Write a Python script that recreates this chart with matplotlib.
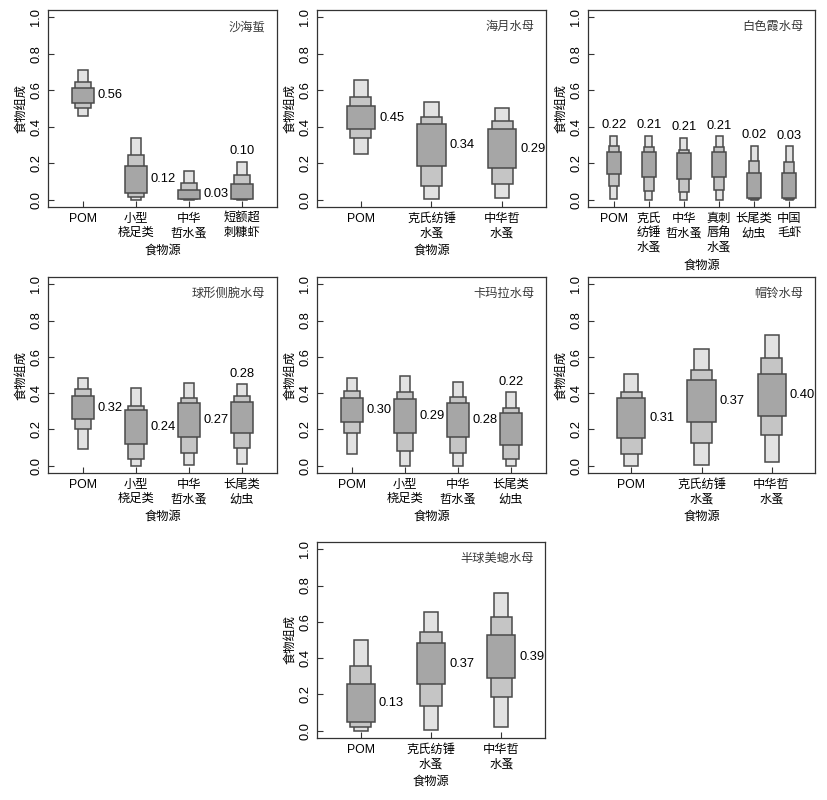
import numpy as np
import matplotlib
matplotlib.use('Agg')
import matplotlib.pyplot as plt

plt.rcParams['font.family'] = ['Liberation Sans', 'Noto Sans CJK SC', 'DejaVu Sans']
plt.rcParams['axes.unicode_minus'] = False

# ---- data: credible intervals (low, high) for 95%, 75%, 50% and the mean ----
# 沙海蜇
p1_name = '沙海蜇'
p1_src = ['POM', '小型\n桡足类', '中华\n哲水蚤', '短额超\n刺糠虾']
p1_q95 = [(0.457, 0.709), (0.000, 0.337), (0.000, 0.160), (0.000, 0.208)]
p1_q75 = [(0.503, 0.645), (0.013, 0.243), (0.005, 0.092), (0.004, 0.134)]
p1_q50 = [(0.530, 0.613), (0.037, 0.186), (0.005, 0.053), (0.005, 0.085)]
p1_mean = ['0.56', '0.12', '0.03', '0.10']
p1_pos = ['r', 'r', 'r', 't']

# 海月水母
p2_name = '海月水母'
p2_src = ['POM', '克氏纺锤\n水蚤', '中华哲\n水蚤']
p2_q95 = [(0.253, 0.655), (0.004, 0.538), (0.010, 0.501)]
p2_q75 = [(0.341, 0.565), (0.075, 0.451), (0.088, 0.431)]
p2_q50 = [(0.385, 0.516), (0.183, 0.415), (0.176, 0.385)]
p2_mean = ['0.45', '0.34', '0.29']
p2_pos = ['r', 'r', 'r']

# 白色霞水母
p3_name = '白色霞水母'
p3_src = ['POM', '克氏\n纺锤\n水蚤', '中华\n哲水蚤', '真刺\n唇角\n水蚤', '长尾类\n幼虫', '中国\n毛虾']
p3_q95 = [(0.006, 0.349), (0.000, 0.349), (0.000, 0.340), (0.000, 0.347), (0.000, 0.297), (0.000, 0.292)]
p3_q75 = [(0.077, 0.292), (0.050, 0.288), (0.042, 0.270), (0.053, 0.288), (0.006, 0.213), (0.004, 0.209)]
p3_q50 = [(0.139, 0.264), (0.123, 0.264), (0.114, 0.255), (0.125, 0.262), (0.010, 0.149), (0.010, 0.145)]
p3_mean = ['0.22', '0.21', '0.21', '0.21', '0.02', '0.03']
p3_pos = ['t', 't', 't', 't', 't', 't']

# 球形侧腕水母
p4_name = '球形侧腕水母'
p4_src = ['POM', '小型\n桡足类', '中华\n哲水蚤', '长尾类\n幼虫']
p4_q95 = [(0.094, 0.484), (0.000, 0.426), (0.002, 0.457), (0.011, 0.448)]
p4_q75 = [(0.204, 0.422), (0.035, 0.328), (0.070, 0.376), (0.100, 0.383)]
p4_q50 = [(0.259, 0.382), (0.119, 0.305), (0.158, 0.345), (0.182, 0.349)]
p4_mean = ['0.32', '0.24', '0.27', '0.28']
p4_pos = ['r', 'r', 'r', 't']

# 卡玛拉水母
p5_name = '卡玛拉水母'
p5_src = ['POM', '小型\n桡足类', '中华\n哲水蚤', '长尾类\n幼虫']
p5_q95 = [(0.064, 0.486), (0.000, 0.494), (0.000, 0.461), (0.000, 0.404)]
p5_q75 = [(0.182, 0.413), (0.083, 0.407), (0.072, 0.380), (0.035, 0.316)]
p5_q50 = [(0.239, 0.371), (0.178, 0.367), (0.160, 0.345), (0.114, 0.292)]
p5_mean = ['0.30', '0.29', '0.28', '0.22']
p5_pos = ['r', 'r', 'r', 't']

# 帽铃水母
p6_name = '帽铃水母'
p6_src = ['POM', '克氏纺锤\n水蚤', '中华哲\n水蚤']
p6_q95 = [(0.000, 0.508), (0.002, 0.646), (0.022, 0.721)]
p6_q75 = [(0.062, 0.407), (0.123, 0.525), (0.171, 0.591)]
p6_q50 = [(0.152, 0.371), (0.240, 0.472), (0.272, 0.506)]
p6_mean = ['0.31', '0.37', '0.40']
p6_pos = ['r', 'r', 'r']

# 半球美螅水母
p7_name = '半球美螅水母'
p7_src = ['POM', '克氏纺锤\n水蚤', '中华哲\n水蚤']
p7_q95 = [(0.000, 0.499), (0.006, 0.655), (0.022, 0.758)]
p7_q75 = [(0.022, 0.354), (0.138, 0.543), (0.187, 0.624)]
p7_q50 = [(0.048, 0.257), (0.257, 0.484), (0.288, 0.525)]
p7_mean = ['0.13', '0.37', '0.39']
p7_pos = ['r', 'r', 'r']

panels = [
    (p1_name, p1_src, p1_q95, p1_q75, p1_q50, p1_mean, p1_pos),
    (p2_name, p2_src, p2_q95, p2_q75, p2_q50, p2_mean, p2_pos),
    (p3_name, p3_src, p3_q95, p3_q75, p3_q50, p3_mean, p3_pos),
    (p4_name, p4_src, p4_q95, p4_q75, p4_q50, p4_mean, p4_pos),
    (p5_name, p5_src, p5_q95, p5_q75, p5_q50, p5_mean, p5_pos),
    (p6_name, p6_src, p6_q95, p6_q75, p6_q50, p6_mean, p6_pos),
    (p7_name, p7_src, p7_q95, p7_q75, p7_q50, p7_mean, p7_pos),
]

# axes rectangles in pixels (left, top, right, bottom) on a 827x800 canvas
W, H = 827.0, 800.0
boxes_px = [(48, 10, 277, 207), (317, 10, 546, 207), (588, 10, 815, 207),
            (48, 277, 277, 473), (317, 277, 546, 473), (588, 277, 815, 473),
            (317, 542, 545, 738)]

fs = 8.8       # tick labels / axis titles
fs_num = 9.3   # numbers
edge = '#4a4a4a'
cols = ['#e2e2e2', '#c5c5c5', '#a6a6a6']   # 95%, 75%, 50%
widths = [0.2, 0.3, 0.4]

fig = plt.figure(figsize=(8.27, 8.0), dpi=100)

for (name, src, q95, q75, q50, mean, pos), (l, t, r, b) in zip(panels, boxes_px):
    ax = fig.add_axes([l / W, 1 - b / H, (r - l) / W, (b - t) / H])
    n = len(src)
    x = np.arange(1, n + 1)
    for q, c, w in zip([q95, q75, q50], cols, widths):
        lo = np.array([v[0] for v in q])
        hi = np.array([v[1] for v in q])
        ax.bar(x, hi - lo, bottom=lo, width=w, color=c, edgecolor=edge, linewidth=1.1, zorder=2)

    for i in range(n):
        if pos[i] == 'r':
            ym = (q50[i][0] + q50[i][1]) / 2
            ax.annotate(mean[i], (x[i] + widths[2] / 2, ym), xytext=(3, 0),
                        textcoords='offset points', ha='left', va='center', fontsize=fs_num)
        else:
            ax.annotate(mean[i], (x[i], q95[i][1]), xytext=(0, 3.5),
                        textcoords='offset points', ha='center', va='bottom', fontsize=fs_num)

    ext = 0.04 * n
    ax.set_xlim(0.5 - ext, n + 0.5 + ext)
    ax.set_ylim(-0.04, 1.04)
    ax.set_xticks(x)
    ax.set_xticklabels(src, fontsize=fs, linespacing=1.3)
    ax.set_yticks([0.0, 0.2, 0.4, 0.6, 0.8, 1.0])
    ax.set_yticklabels(['0.0', '0.2', '0.4', '0.6', '0.8', '1.0'], fontsize=fs_num,
                       rotation=90, va='center')
    ax.tick_params(direction='in', length=4, width=0.8, color='#333333', pad=4)
    for s in ax.spines.values():
        s.set_color('#333333')
        s.set_linewidth(0.9)
    ax.set_xlabel('食物源', fontsize=fs, labelpad=4)
    ax.set_ylabel('食物组成', fontsize=fs, labelpad=2)
    ax.text(0.95, 0.912, name, transform=ax.transAxes, ha='right', va='center',
            fontsize=fs, color='#3a3a3a')

fig.savefig('out.png', dpi=100)
